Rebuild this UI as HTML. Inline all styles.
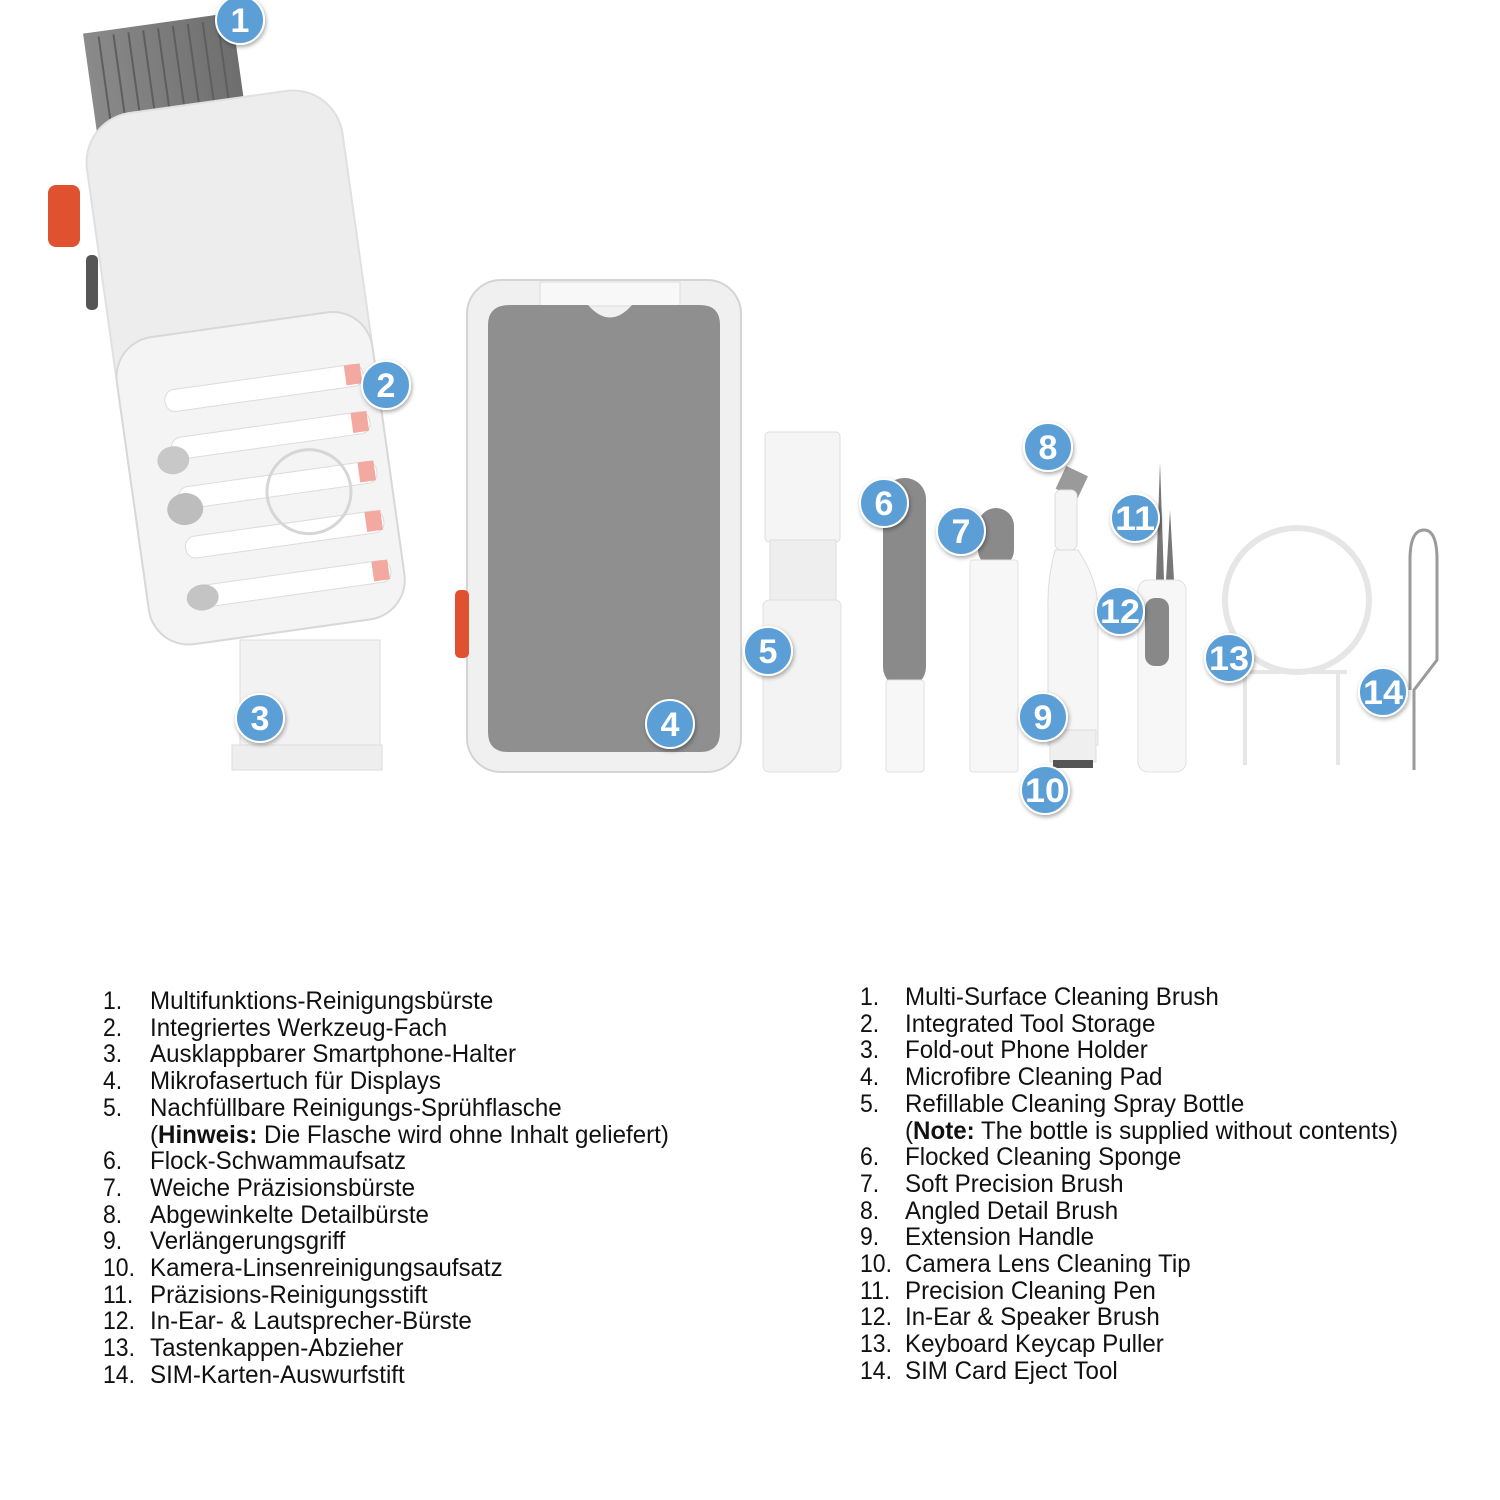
<!DOCTYPE html>
<html><head><meta charset="utf-8"><style>
body{margin:0;width:1500px;height:1500px;background:#fff;position:relative;overflow:hidden;font-family:"Liberation Sans",sans-serif;}
svg{position:absolute;left:0;top:0}
.l{position:absolute;font-size:25px;line-height:26px;color:#111;white-space:nowrap;height:26px}
.l .n{position:absolute;left:0;top:0;display:inline-block;transform:scaleX(0.92);transform-origin:left}
.l .t{position:absolute;top:0;display:inline-block;transform:scaleX(0.965);transform-origin:left}
</style></head><body>
<svg width="1500" height="1500" viewBox="0 0 1500 1500">
<defs>
<linearGradient id="br" x1="0" x2="1"><stop offset="0" stop-color="#8a8a8a"/><stop offset="1" stop-color="#6e6e6e"/></linearGradient>
<filter id="sh" x="-30%" y="-30%" width="160%" height="160%"><feDropShadow dx="1" dy="2" stdDeviation="2" flood-color="#000" flood-opacity="0.35"/></filter>
</defs>
<!-- main brush -->
<g transform="rotate(-8 240 360)">
  <rect x="130" y="15" width="150" height="110" fill="url(#br)"/>
  <g stroke="#5e5e5e" stroke-width="2">
    <line x1="145" y1="20" x2="145" y2="125"/><line x1="160" y1="20" x2="160" y2="125"/><line x1="175" y1="20" x2="175" y2="125"/><line x1="190" y1="20" x2="190" y2="125"/><line x1="205" y1="20" x2="205" y2="125"/><line x1="220" y1="20" x2="220" y2="125"/><line x1="235" y1="20" x2="235" y2="125"/><line x1="250" y1="20" x2="250" y2="125"/><line x1="265" y1="20" x2="265" y2="125"/>
  </g>
  <rect x="115" y="100" width="258" height="535" rx="50" fill="#ededed" stroke="#e0e0e0" stroke-width="2"/>
  <rect x="115" y="325" width="258" height="310" rx="40" fill="#f4f4f4" stroke="#d8d8d8" stroke-width="2"/>
  <g fill="#fff" stroke="#dcdcdc"><rect x="160" y="380" width="200" height="22" rx="10"/><rect x="160" y="428" width="200" height="22" rx="10"/><rect x="160" y="478" width="200" height="22" rx="10"/><rect x="160" y="528" width="200" height="22" rx="10"/><rect x="160" y="578" width="200" height="22" rx="10"/></g>
  <g fill="#f3a9a0"><rect x="342" y="380" width="16" height="20"/><rect x="342" y="428" width="16" height="20"/><rect x="342" y="478" width="16" height="20"/><rect x="342" y="528" width="16" height="20"/><rect x="342" y="578" width="16" height="20"/></g>
  <ellipse cx="160" cy="450" rx="16" ry="14" fill="#c8c8c8"/><ellipse cx="165" cy="500" rx="18" ry="16" fill="#bdbdbd"/><ellipse cx="170" cy="590" rx="16" ry="13" fill="#c4c4c4"/>
  <circle cx="290" cy="500" r="42" fill="none" stroke="#d6d6d6" stroke-width="3"/>
</g>
<rect x="48" y="185" width="32" height="62" rx="8" fill="#e0512f"/>
<rect x="86" y="255" width="12" height="55" rx="5" fill="#555"/>
<rect x="240" y="640" width="140" height="130" fill="#f2f2f2" stroke="#dcdcdc"/>
<rect x="232" y="745" width="150" height="25" fill="#eee" stroke="#ddd"/>
<!-- pad -->
<rect x="467" y="280" width="274" height="492" rx="34" fill="#f0f0f0" stroke="#d4d4d4" stroke-width="2"/>
<rect x="540" y="282" width="140" height="24" fill="#f8f8f8" stroke="#ddd"/>
<path d="M510 305 H588 Q610 330 632 305 H700 Q720 305 720 325 V732 Q720 752 700 752 H508 Q488 752 488 732 V325 Q488 305 510 305Z" fill="#8f8f8f"/>
<rect x="455" y="590" width="14" height="68" rx="5" fill="#e0512f"/>
<!-- spray -->
<rect x="765" y="432" width="75" height="110" rx="4" fill="#f5f5f5" stroke="#ddd"/>
<rect x="770" y="540" width="66" height="62" fill="#eeeeee" stroke="#ddd"/>
<rect x="763" y="600" width="78" height="172" rx="6" fill="#f3f3f3" stroke="#e0e0e0"/>
<!-- 6 -->
<rect x="883" y="478" width="43" height="210" rx="21" fill="#8a8a8a"/>
<rect x="886" y="680" width="38" height="92" rx="3" fill="#f7f7f7" stroke="#e0e0e0"/>
<!-- 7 -->
<rect x="978" y="508" width="36" height="60" rx="18" fill="#8a8a8a"/>
<rect x="970" y="560" width="48" height="212" rx="3" fill="#f7f7f7" stroke="#e0e0e0"/>
<!-- 8/9/10 -->
<rect x="1060" y="470" width="24" height="25" fill="#9a9a9a" transform="rotate(25 1072 482)"/>
<rect x="1055" y="490" width="22" height="60" rx="6" fill="#f5f5f5" stroke="#ddd"/>
<path d="M1055 550 Q1047 580 1048 610 V745 H1098 V610 Q1098 580 1078 550Z" fill="#f6f6f6" stroke="#ddd"/>
<rect x="1050" y="730" width="46" height="32" fill="#efefef" stroke="#ddd"/>
<rect x="1053" y="760" width="40" height="8" fill="#555"/>
<!-- 11/12 -->
<path d="M1160 462 L1156 580 L1164 580Z" fill="#777"/><path d="M1170 510 L1166 580 L1174 580Z" fill="#777"/>
<rect x="1138" y="580" width="48" height="192" rx="10" fill="#f7f7f7" stroke="#e0e0e0"/>
<rect x="1145" y="598" width="24" height="68" rx="10" fill="#888"/>
<!-- 13 -->
<circle cx="1297" cy="600" r="72" fill="none" stroke="#e6e6e6" stroke-width="6"/>
<path d="M1238 672 H1347 M1245 672 V765 M1338 672 V765" stroke="#e6e6e6" stroke-width="4" fill="none"/>
<!-- 14 -->
<path d="M1414 770 V690 L1437 660 V560 Q1437 530 1424 530 Q1410 530 1410 560 V690" stroke="#9a9a9a" stroke-width="3" fill="none"/>
<!-- badges -->
<g filter="url(#sh)" fill="#5b9fd6" stroke="#fff" stroke-width="2">
<circle cx="240" cy="20" r="24"/><circle cx="386" cy="385" r="24"/><circle cx="260" cy="718" r="24"/><circle cx="670" cy="724" r="24"/><circle cx="768" cy="651" r="24"/><circle cx="884" cy="503" r="24"/><circle cx="961" cy="531" r="24"/><circle cx="1048" cy="447" r="24"/><circle cx="1043" cy="717" r="24"/><circle cx="1045" cy="790" r="24"/><circle cx="1135" cy="518" r="24"/><circle cx="1120" cy="611" r="24"/><circle cx="1229" cy="658" r="24"/><circle cx="1383" cy="692" r="24"/>
</g>
<g fill="#fff" font-family="Liberation Sans Narrow, Liberation Sans, sans-serif" font-weight="bold" font-size="34" text-anchor="middle">
<text x="240" y="32">1</text><text x="386" y="397">2</text><text x="260" y="730">3</text><text x="670" y="736">4</text><text x="768" y="663">5</text><text x="884" y="515">6</text><text x="961" y="543">7</text><text x="1048" y="459">8</text><text x="1043" y="729">9</text><text x="1045" y="802" textLength="40" lengthAdjust="spacingAndGlyphs">10</text><text x="1135" y="530" textLength="40" lengthAdjust="spacingAndGlyphs">11</text><text x="1120" y="623" textLength="40" lengthAdjust="spacingAndGlyphs">12</text><text x="1229" y="670" textLength="40" lengthAdjust="spacingAndGlyphs">13</text><text x="1383" y="704" textLength="40" lengthAdjust="spacingAndGlyphs">14</text>
</g>
</svg>

<div style="position:absolute;left:103px;top:988px">
<div class="l" style="top:0"><span class="n">1.</span><span class="t" style="left:47px">Multifunktions-Reinigungsbürste</span></div>
<div class="l" style="top:26.7px"><span class="n">2.</span><span class="t" style="left:47px">Integriertes Werkzeug-Fach</span></div>
<div class="l" style="top:53.4px"><span class="n">3.</span><span class="t" style="left:47px">Ausklappbarer Smartphone-Halter</span></div>
<div class="l" style="top:80.1px"><span class="n">4.</span><span class="t" style="left:47px">Mikrofasertuch für Displays</span></div>
<div class="l" style="top:106.8px"><span class="n">5.</span><span class="t" style="left:47px">Nachfüllbare Reinigungs-Sprühflasche</span></div>
<div class="l" style="top:133.5px"><span class="t" style="left:47px">(<b>Hinweis:</b> Die Flasche wird ohne Inhalt geliefert)</span></div>
<div class="l" style="top:160.2px"><span class="n">6.</span><span class="t" style="left:47px">Flock-Schwammaufsatz</span></div>
<div class="l" style="top:186.9px"><span class="n">7.</span><span class="t" style="left:47px">Weiche Präzisionsbürste</span></div>
<div class="l" style="top:213.6px"><span class="n">8.</span><span class="t" style="left:47px">Abgewinkelte Detailbürste</span></div>
<div class="l" style="top:240.3px"><span class="n">9.</span><span class="t" style="left:47px">Verlängerungsgriff</span></div>
<div class="l" style="top:267px"><span class="n">10.</span><span class="t" style="left:47px">Kamera-Linsenreinigungsaufsatz</span></div>
<div class="l" style="top:293.7px"><span class="n">11.</span><span class="t" style="left:47px">Präzisions-Reinigungsstift</span></div>
<div class="l" style="top:320.4px"><span class="n">12.</span><span class="t" style="left:47px">In-Ear- &amp; Lautsprecher-Bürste</span></div>
<div class="l" style="top:347.1px"><span class="n">13.</span><span class="t" style="left:47px">Tastenkappen-Abzieher</span></div>
<div class="l" style="top:373.8px"><span class="n">14.</span><span class="t" style="left:47px">SIM-Karten-Auswurfstift</span></div>
</div>

<div style="position:absolute;left:860px;top:984px">
<div class="l" style="top:0"><span class="n">1.</span><span class="t" style="left:45px">Multi-Surface Cleaning Brush</span></div>
<div class="l" style="top:26.7px"><span class="n">2.</span><span class="t" style="left:45px">Integrated Tool Storage</span></div>
<div class="l" style="top:53.4px"><span class="n">3.</span><span class="t" style="left:45px">Fold-out Phone Holder</span></div>
<div class="l" style="top:80.1px"><span class="n">4.</span><span class="t" style="left:45px">Microfibre Cleaning Pad</span></div>
<div class="l" style="top:106.8px"><span class="n">5.</span><span class="t" style="left:45px">Refillable Cleaning Spray Bottle</span></div>
<div class="l" style="top:133.5px"><span class="t" style="left:45px">(<b>Note:</b> The bottle is supplied without contents)</span></div>
<div class="l" style="top:160.2px"><span class="n">6.</span><span class="t" style="left:45px">Flocked Cleaning Sponge</span></div>
<div class="l" style="top:186.9px"><span class="n">7.</span><span class="t" style="left:45px">Soft Precision Brush</span></div>
<div class="l" style="top:213.6px"><span class="n">8.</span><span class="t" style="left:45px">Angled Detail Brush</span></div>
<div class="l" style="top:240.3px"><span class="n">9.</span><span class="t" style="left:45px">Extension Handle</span></div>
<div class="l" style="top:267px"><span class="n">10.</span><span class="t" style="left:45px">Camera Lens Cleaning Tip</span></div>
<div class="l" style="top:293.7px"><span class="n">11.</span><span class="t" style="left:45px">Precision Cleaning Pen</span></div>
<div class="l" style="top:320.4px"><span class="n">12.</span><span class="t" style="left:45px">In-Ear &amp; Speaker Brush</span></div>
<div class="l" style="top:347.1px"><span class="n">13.</span><span class="t" style="left:45px">Keyboard Keycap Puller</span></div>
<div class="l" style="top:373.8px"><span class="n">14.</span><span class="t" style="left:45px">SIM Card Eject Tool</span></div>
</div>
</body></html>
